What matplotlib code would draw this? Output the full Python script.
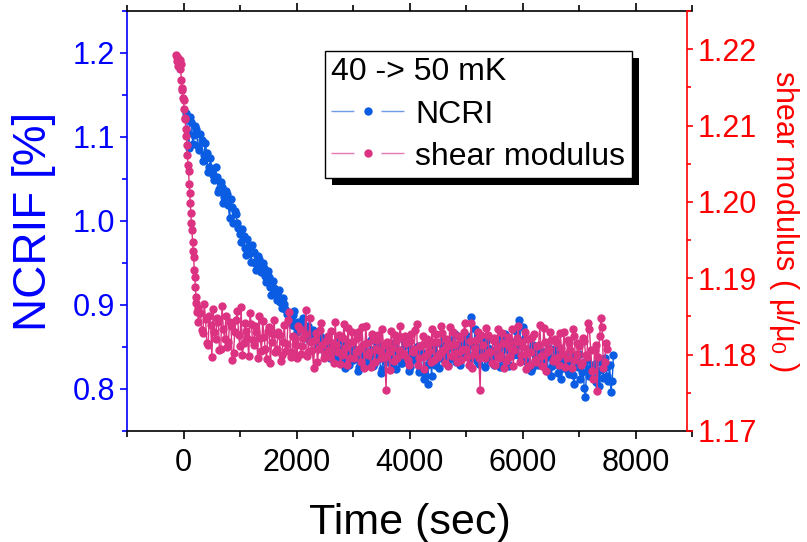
import matplotlib
matplotlib.use("Agg")
import matplotlib.pyplot as plt
from matplotlib.ticker import MultipleLocator, FormatStrFormatter
from matplotlib.lines import Line2D
from matplotlib.legend_handler import HandlerTuple
from matplotlib.patches import Rectangle

plt.rcParams['font.family'] = ['Liberation Sans', 'DejaVu Sans']
plt.rcParams['mathtext.fontset'] = 'custom'
plt.rcParams['mathtext.rm'] = 'Liberation Sans'
plt.rcParams['mathtext.it'] = 'Liberation Sans'

# ---------------- data ----------------
# NCRI (left axis), two interleaved read-outs of the dense trace
ncri_time_a = [
    50, 95, 140, 185, 230, 275, 320, 365, 410, 455,
    500, 545, 590, 635, 680, 725, 770, 815, 860, 905,
    950, 995, 1040, 1085, 1130, 1175, 1220, 1265, 1310, 1355,
    1400, 1445, 1490, 1535, 1580, 1625, 1670, 1715, 1760, 1805,
    1850, 1895, 1940, 1985, 2030, 2075, 2120, 2165, 2210, 2255,
    2300, 2345, 2390, 2435, 2480, 2525, 2570, 2615, 2660, 2705,
    2750, 2795, 2840, 2885, 2930, 2975, 3020, 3065, 3110, 3155,
    3200, 3245, 3290, 3335, 3380, 3425, 3470, 3515, 3560, 3605,
    3650, 3695, 3740, 3785, 3830, 3875, 3920, 3965, 4010, 4055,
    4100, 4145, 4190, 4235, 4280, 4325, 4370, 4415, 4460, 4505,
    4550, 4595, 4640, 4685, 4730, 4775, 4820, 4865, 4910, 4955,
    5000, 5045, 5090, 5135, 5180, 5225, 5270, 5315, 5360, 5405,
    5450, 5495, 5540, 5585, 5630, 5675, 5720, 5765, 5810, 5855,
    5900, 5945, 5990, 6035, 6080, 6125, 6170, 6215, 6260, 6305,
    6350, 6395, 6440, 6485, 6530, 6575, 6620, 6665, 6710, 6755,
    6800, 6845, 6890, 6935, 6980, 7025, 7070, 7115, 7160, 7205,
    7250, 7295, 7340, 7385, 7430, 7475, 7520, 7565, 7610,
]
ncri_value_a = [
    1.128, 1.087, 1.118, 1.102, 1.110, 1.085, 1.097, 1.079, 1.081, 1.064,
    1.060, 1.049, 1.052, 1.038, 1.041, 1.028, 1.032, 1.003, 1.017, 1.012,
    0.998, 0.985, 0.991, 0.968, 0.978, 0.962, 0.972, 0.950, 0.958, 0.945,
    0.950, 0.935, 0.941, 0.922, 0.928, 0.915, 0.911, 0.903, 0.908, 0.895,
    0.891, 0.882, 0.888, 0.874, 0.880, 0.872, 0.884, 0.866, 0.875, 0.862,
    0.870, 0.858, 0.865, 0.852, 0.861, 0.848, 0.855, 0.843, 0.851, 0.838,
    0.847, 0.832, 0.854, 0.840, 0.829, 0.851, 0.836, 0.845, 0.826, 0.848,
    0.841, 0.855, 0.833, 0.846, 0.830, 0.852, 0.838, 0.824, 0.849, 0.835,
    0.843, 0.828, 0.856, 0.837, 0.847, 0.831, 0.852, 0.840, 0.826, 0.845,
    0.838, 0.851, 0.823, 0.843, 0.817, 0.806, 0.835, 0.848, 0.829, 0.842,
    0.853, 0.836, 0.846, 0.828, 0.858, 0.840, 0.832, 0.849, 0.837, 0.860,
    0.844, 0.855, 0.886, 0.838, 0.851, 0.830, 0.847, 0.842, 0.857, 0.834,
    0.846, 0.829, 0.853, 0.839, 0.862, 0.835, 0.848, 0.827, 0.856, 0.843,
    0.851, 0.882, 0.838, 0.859, 0.832, 0.846, 0.825, 0.849, 0.836, 0.842,
    0.830, 0.844, 0.821, 0.838, 0.827, 0.848, 0.819, 0.836, 0.825, 0.841,
    0.822, 0.834, 0.817, 0.839, 0.826, 0.812, 0.831, 0.790, 0.824, 0.815,
    0.829, 0.808, 0.822, 0.835, 0.813, 0.826, 0.810, 0.797, 0.841,
]
ncri_time_b = [
    72, 117, 162, 207, 252, 297, 342, 387, 432, 477,
    522, 567, 612, 657, 702, 747, 792, 837, 882, 927,
    972, 1017, 1062, 1107, 1152, 1197, 1242, 1287, 1332, 1377,
    1422, 1467, 1512, 1557, 1602, 1647, 1692, 1737, 1782, 1827,
    1872, 1917, 1962, 2007, 2052, 2097, 2142, 2187, 2232, 2277,
    2322, 2367, 2412, 2457, 2502, 2547, 2592, 2637, 2682, 2727,
    2772, 2817, 2862, 2907, 2952, 2997, 3042, 3087, 3132, 3177,
    3222, 3267, 3312, 3357, 3402, 3447, 3492, 3537, 3582, 3627,
    3672, 3717, 3762, 3807, 3852, 3897, 3942, 3987, 4032, 4077,
    4122, 4167, 4212, 4257, 4302, 4347, 4392, 4437, 4482, 4527,
    4572, 4617, 4662, 4707, 4752, 4797, 4842, 4887, 4932, 4977,
    5022, 5067, 5112, 5157, 5202, 5247, 5292, 5337, 5382, 5427,
    5472, 5517, 5562, 5607, 5652, 5697, 5742, 5787, 5832, 5877,
    5922, 5967, 6012, 6057, 6102, 6147, 6192, 6237, 6282, 6327,
    6372, 6417, 6462, 6507, 6552, 6597, 6642, 6687, 6732, 6777,
    6822, 6867, 6912, 6957, 7002, 7047, 7092, 7137, 7182, 7227,
    7272, 7317, 7362, 7407, 7452, 7497, 7542, 7587,
]
ncri_value_b = [
    1.105, 1.124, 1.092, 1.113, 1.089, 1.104, 1.071, 1.093, 1.058, 1.075,
    1.055, 1.064, 1.035, 1.047, 1.022, 1.036, 1.019, 1.026, 0.998, 1.008,
    0.992, 0.975, 0.982, 0.959, 0.970, 0.951, 0.963, 0.942, 0.955, 0.939,
    0.944, 0.927, 0.933, 0.912, 0.920, 0.906, 0.918, 0.897, 0.901, 0.889,
    0.885, 0.876, 0.893, 0.868, 0.871, 0.879, 0.861, 0.870, 0.857, 0.866,
    0.862, 0.853, 0.849, 0.860, 0.842, 0.856, 0.837, 0.850, 0.844, 0.858,
    0.836, 0.849, 0.825, 0.843, 0.855, 0.834, 0.846, 0.822, 0.839, 0.852,
    0.830, 0.844, 0.858, 0.827, 0.841, 0.836, 0.819, 0.845, 0.832, 0.850,
    0.836, 0.852, 0.824, 0.845, 0.831, 0.857, 0.838, 0.821, 0.848, 0.834,
    0.846, 0.820, 0.839, 0.812, 0.828, 0.841, 0.816, 0.853, 0.837, 0.825,
    0.842, 0.859, 0.831, 0.850, 0.837, 0.866, 0.843, 0.829, 0.854, 0.846,
    0.863, 0.837, 0.852, 0.871, 0.833, 0.845, 0.858, 0.826, 0.849, 0.840,
    0.838, 0.857, 0.844, 0.826, 0.851, 0.866, 0.830, 0.853, 0.841, 0.869,
    0.840, 0.855, 0.874, 0.833, 0.847, 0.822, 0.852, 0.838, 0.829, 0.845,
    0.837, 0.824, 0.849, 0.816, 0.833, 0.845, 0.828, 0.812, 0.840, 0.831,
    0.818, 0.836, 0.806, 0.829, 0.842, 0.820, 0.801, 0.834, 0.815, 0.827,
    0.812, 0.832, 0.804, 0.824, 0.837, 0.815, 0.828, 0.809,
]

# shear modulus (right axis)
shear_time_a = [
    -130, -120, -110, -100, -90, -80, -70, -60, -50, -40,
    -30, -20, -10, 0, 10, 20, 30, 40, 50, 60,
    70, 80, 90, 100, 110, 120, 130, 140, 150, 160,
    170, 180, 190, 200, 210, 220, 230, 240, 250, 260,
    300, 345, 390, 435, 480, 525, 570, 615, 660, 705,
    750, 795, 840, 885, 930, 975, 1020, 1065, 1110, 1155,
    1200, 1245, 1290, 1335, 1380, 1425, 1470, 1515, 1560, 1605,
    1650, 1695, 1740, 1785, 1830, 1875, 1920, 1965, 2010, 2055,
    2100, 2145, 2190, 2235, 2280, 2325, 2370, 2415, 2460, 2505,
    2550, 2595, 2640, 2685, 2730, 2775, 2820, 2865, 2910, 2955,
    3000, 3045, 3090, 3135, 3180, 3225, 3270, 3315, 3360, 3405,
    3450, 3495, 3540, 3585, 3630, 3675, 3720, 3765, 3810, 3855,
    3900, 3945, 3990, 4035, 4080, 4125, 4170, 4215, 4260, 4305,
    4350, 4395, 4440, 4485, 4530, 4575, 4620, 4665, 4710, 4755,
    4800, 4845, 4890, 4935, 4980, 5025, 5070, 5115, 5160, 5205,
    5250, 5295, 5340, 5385, 5430, 5475, 5520, 5565, 5610, 5655,
    5700, 5745, 5790, 5835, 5880, 5925, 5970, 6015, 6060, 6105,
    6150, 6195, 6240, 6285, 6330, 6375, 6420, 6465, 6510, 6555,
    6600, 6645, 6690, 6735, 6780, 6825, 6870, 6915, 6960, 7005,
    7050, 7095, 7140, 7185, 7230, 7275, 7320, 7365, 7410, 7455,
    7500,
]
shear_value_a = [
    1.2193, 1.2190, 1.2185, 1.2178, 1.2188, 1.2183, 1.2174, 1.2186, 1.2180, 1.2160,
    1.2147, 1.2149, 1.2136, 1.2134, 1.2122, 1.2110, 1.2108, 1.2095, 1.2086, 1.2075,
    1.2062, 1.2048, 1.2040, 1.2024, 1.2012, 1.1998, 1.1986, 1.1972, 1.1963, 1.1948,
    1.1936, 1.1928, 1.1911, 1.1902, 1.1889, 1.1876, 1.1868, 1.1856, 1.1861, 1.1843,
    1.1855, 1.1828, 1.1847, 1.1812, 1.1839, 1.1860, 1.1821, 1.1843, 1.1808, 1.1834,
    1.1851, 1.1817, 1.1838, 1.1802, 1.1845, 1.1826, 1.1862, 1.1815, 1.1831, 1.1798,
    1.1840, 1.1812, 1.1829, 1.1851, 1.1805, 1.1823, 1.1794, 1.1836, 1.1817, 1.1845,
    1.1808, 1.1826, 1.1799, 1.1839, 1.1814, 1.1856, 1.1803, 1.1821, 1.1795, 1.1833,
    1.1811, 1.1827, 1.1798, 1.1848, 1.1806, 1.1819, 1.1790, 1.1832, 1.1813, 1.1801,
    1.1825, 1.1797, 1.1815, 1.1843, 1.1804, 1.1788, 1.1822, 1.1809, 1.1835, 1.1796,
    1.1817, 1.1803, 1.1829, 1.1791, 1.1812, 1.1838, 1.1800, 1.1784, 1.1821, 1.1808,
    1.1826, 1.1795, 1.1813, 1.1754, 1.1804, 1.1831, 1.1792, 1.1818, 1.1806, 1.1823,
    1.1799, 1.1815, 1.1787, 1.1827, 1.1808, 1.1840, 1.1796, 1.1812, 1.1781, 1.1820,
    1.1805, 1.1833, 1.1793, 1.1816, 1.1801, 1.1828, 1.1789, 1.1811, 1.1836, 1.1798,
    1.1814, 1.1790, 1.1822, 1.1806, 1.1841, 1.1797, 1.1818, 1.1783, 1.1809, 1.1830,
    1.1754, 1.1812, 1.1795, 1.1826, 1.1803, 1.1819, 1.1786, 1.1834, 1.1800, 1.1815,
    1.1792, 1.1823, 1.1807, 1.1785, 1.1817, 1.1838, 1.1799, 1.1810, 1.1781, 1.1821,
    1.1804, 1.1827, 1.1790, 1.1813, 1.1798, 1.1835, 1.1778, 1.1808, 1.1819, 1.1794,
    1.1816, 1.1787, 1.1809, 1.1829, 1.1796, 1.1815, 1.1782, 1.1824, 1.1801, 1.1811,
    1.1789, 1.1818, 1.1797, 1.1833, 1.1779, 1.1806, 1.1752, 1.1824, 1.1836, 1.1790,
    1.1808,
]
shear_time_b = [
    322, 367, 412, 457, 502, 547, 592, 637, 682, 727,
    772, 817, 862, 907, 952, 997, 1042, 1087, 1132, 1177,
    1222, 1267, 1312, 1357, 1402, 1447, 1492, 1537, 1582, 1627,
    1672, 1717, 1762, 1807, 1852, 1897, 1942, 1987, 2032, 2077,
    2122, 2167, 2212, 2257, 2302, 2347, 2392, 2437, 2482, 2527,
    2572, 2617, 2662, 2707, 2752, 2797, 2842, 2887, 2932, 2977,
    3022, 3067, 3112, 3157, 3202, 3247, 3292, 3337, 3382, 3427,
    3472, 3517, 3562, 3607, 3652, 3697, 3742, 3787, 3832, 3877,
    3922, 3967, 4012, 4057, 4102, 4147, 4192, 4237, 4282, 4327,
    4372, 4417, 4462, 4507, 4552, 4597, 4642, 4687, 4732, 4777,
    4822, 4867, 4912, 4957, 5002, 5047, 5092, 5137, 5182, 5227,
    5272, 5317, 5362, 5407, 5452, 5497, 5542, 5587, 5632, 5677,
    5722, 5767, 5812, 5857, 5902, 5947, 5992, 6037, 6082, 6127,
    6172, 6217, 6262, 6307, 6352, 6397, 6442, 6487, 6532, 6577,
    6622, 6667, 6712, 6757, 6802, 6847, 6892, 6937, 6982, 7027,
    7072, 7117, 7162, 7207, 7252, 7297, 7342, 7387, 7432, 7477,
]
shear_value_b = [
    1.1832, 1.1866, 1.1815, 1.1851, 1.1797, 1.1829, 1.1848, 1.1806, 1.1864, 1.1820,
    1.1810, 1.1843, 1.1793, 1.1830, 1.1857, 1.1811, 1.1799, 1.1841, 1.1822, 1.1854,
    1.1819, 1.1838, 1.1796, 1.1822, 1.1844, 1.1808, 1.1831, 1.1789, 1.1827, 1.1803,
    1.1830, 1.1792, 1.1817, 1.1805, 1.1846, 1.1797, 1.1824, 1.1812, 1.1838, 1.1801,
    1.1822, 1.1859, 1.1804, 1.1816, 1.1783, 1.1828, 1.1807, 1.1841, 1.1795, 1.1818,
    1.1806, 1.1831, 1.1789, 1.1812, 1.1826, 1.1799, 1.1840, 1.1786, 1.1815, 1.1829,
    1.1795, 1.1822, 1.1808, 1.1836, 1.1782, 1.1815, 1.1803, 1.1827, 1.1790, 1.1819,
    1.1805, 1.1833, 1.1797, 1.1817, 1.1780, 1.1809, 1.1826, 1.1795, 1.1837, 1.1802,
    1.1825, 1.1793, 1.1818, 1.1804, 1.1832, 1.1786, 1.1811, 1.1824, 1.1798, 1.1814,
    1.1790, 1.1816, 1.1827, 1.1797, 1.1838, 1.1806, 1.1820, 1.1785, 1.1812, 1.1829,
    1.1802, 1.1824, 1.1793, 1.1830, 1.1808, 1.1787, 1.1842, 1.1801, 1.1819, 1.1795,
    1.1826, 1.1798, 1.1835, 1.1804, 1.1789, 1.1822, 1.1810, 1.1796, 1.1828, 1.1783,
    1.1814, 1.1797, 1.1833, 1.1806, 1.1822, 1.1791, 1.1817, 1.1829, 1.1802, 1.1786,
    1.1823, 1.1793, 1.1811, 1.1839, 1.1785, 1.1816, 1.1803, 1.1830, 1.1792, 1.1821,
    1.1797, 1.1828, 1.1801, 1.1784, 1.1819, 1.1806, 1.1834, 1.1793, 1.1815, 1.1787,
    1.1822, 1.1799, 1.1841, 1.1806, 1.1768, 1.1813, 1.1797, 1.1848, 1.1782, 1.1815,
]

legend_title = "40 -> 50 mK"
series_labels = ["NCRI", "shear modulus"]
x_ticks = [0, 2000, 4000, 6000, 8000]
left_ticks = [0.8, 0.9, 1.0, 1.1, 1.2]
right_ticks = [1.17, 1.18, 1.19, 1.20, 1.21, 1.22]


def merged(times_a, vals_a, times_b, vals_b):
    pairs = sorted(zip(list(times_a) + list(times_b), list(vals_a) + list(vals_b)))
    return [p[0] for p in pairs], [p[1] for p in pairs]


ncri_t, ncri_v = merged(ncri_time_a, ncri_value_a, ncri_time_b, ncri_value_b)
shear_t, shear_v = merged(shear_time_a, shear_value_a, shear_time_b, shear_value_b)

# ---------------- style ----------------
BLUE = '#0a5ce3'
PINK = '#dc3282'
AX_BLUE = '#0000ff'
AX_RED = '#ff0000'
FS_TICK = 22

fig = plt.figure(figsize=(8.07, 5.42), dpi=100)
ax = fig.add_axes([127/807, 1-431/542, (692-127)/807, (431-11)/542])
ax2 = ax.twinx()

ax.plot(ncri_t, ncri_v, '-', color=BLUE, lw=1.0, marker='o', ms=5,
        mec=BLUE, mfc=BLUE)
ax2.plot(shear_t, shear_v, '-', color=PINK, lw=1.0, marker='o', ms=5,
         mec=PINK, mfc=PINK)

ax.set_xlim(-1000, 9000)
ax.set_ylim(0.75, 1.25)
ax2.set_ylim(1.17, 1.225)

ax.set_xticks(x_ticks)
ax.xaxis.set_minor_locator(MultipleLocator(1000))
ax.set_yticks(left_ticks)
ax.yaxis.set_minor_locator(MultipleLocator(0.05))
ax.yaxis.set_major_formatter(FormatStrFormatter('%.1f'))
ax2.set_yticks(right_ticks)
ax2.yaxis.set_minor_locator(MultipleLocator(0.005))
ax2.yaxis.set_major_formatter(FormatStrFormatter('%.2f'))

# spines
ax.spines['right'].set_visible(False)
ax.spines['left'].set_color(AX_BLUE)
for s in ['top', 'bottom']:
    ax.spines[s].set_color('black')
    ax.spines[s].set_linewidth(1.2)
ax.spines['left'].set_linewidth(1.2)
for s in ['left', 'top', 'bottom']:
    ax2.spines[s].set_visible(False)
ax2.spines['right'].set_color(AX_RED)
ax2.spines['right'].set_linewidth(1.2)
ax2.spines['right'].set_position(('axes', (686.5-127)/(692-127)))

ax.tick_params(axis='x', which='both', top=True, bottom=True, labelsize=FS_TICK,
               colors='black', width=1.2)
ax.tick_params(axis='x', which='major', length=6, direction='out')
ax.tick_params(axis='x', which='minor', length=4, direction='out')
ax.tick_params(axis='y', which='both', colors=AX_BLUE, labelsize=FS_TICK, width=1.2,
               direction='out', right=False)
ax.tick_params(axis='y', which='major', length=5)
ax.tick_params(axis='y', which='minor', length=3.5)
ax2.tick_params(axis='y', which='both', colors=AX_RED, labelsize=FS_TICK, width=1.2,
                direction='out', left=False)
ax2.tick_params(axis='y', which='major', length=4.5)
ax2.tick_params(axis='y', which='minor', length=3)
ax.xaxis.set_tick_params(pad=6)

ax.set_xlabel("Time (sec)", fontsize=31, labelpad=18)
ax.set_ylabel("NCRIF [%]", fontsize=33, color=AX_BLUE, labelpad=12)
ax2.set_ylabel(r"shear modulus ( $\mu/\mu_0$ )", fontsize=22, color=AX_RED,
               rotation=270, labelpad=32)

# legend
h1 = (Line2D([], [], color='#6f9be8', lw=1.0, dashes=(16.5, 19.5)),
      Line2D([], [], ls='none', marker='o', ms=5, color=BLUE))
h2 = (Line2D([], [], color='#e57aae', lw=1.0, dashes=(16.5, 19.5)),
      Line2D([], [], ls='none', marker='o', ms=5, color=PINK))
leg = ax2.legend([h1, h2], series_labels, title=legend_title,
                 handler_map={tuple: HandlerTuple(ndivide=1)},
                 loc='upper left', bbox_to_anchor=(325/807, 1-51/542),
                 bbox_transform=fig.transFigure, borderaxespad=0,
                 fontsize=23, title_fontsize=23, alignment='left',
                 handlelength=2.3, handletextpad=0.33, labelspacing=0.38,
                 borderpad=0.2, fancybox=False, framealpha=1,
                 edgecolor='black', shadow=False)
leg.get_frame().set_linewidth(1.0)
leg.set_zorder(10)

fig.canvas.draw()
bb = leg.get_window_extent()
sh = Rectangle((bb.x0 + 7, bb.y0 - 7), bb.width, bb.height, transform=None,
               facecolor='black', edgecolor='none', zorder=9)
ax2.add_artist(sh)

fig.savefig("out.png", dpi=100)
